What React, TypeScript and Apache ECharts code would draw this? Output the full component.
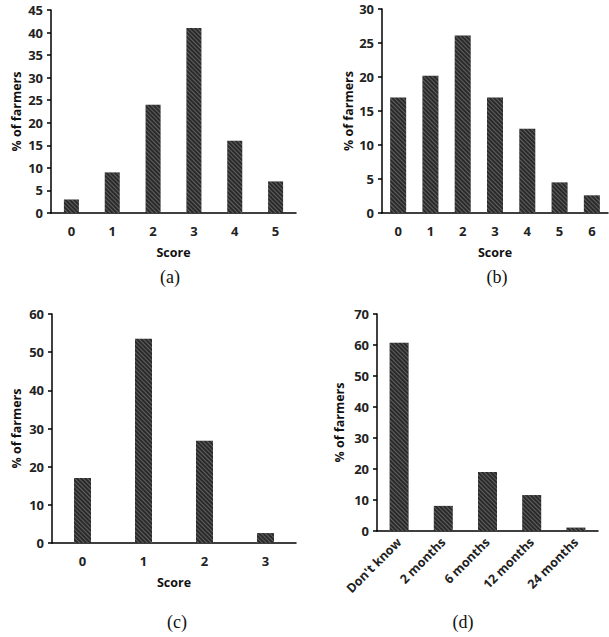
import React, { useEffect, useRef } from "react";
import * as echarts from "echarts";

const catsA = ["0", "1", "2", "3", "4", "5"];
const valsA = [3, 9, 24, 41, 16, 7];
const catsB = ["0", "1", "2", "3", "4", "5", "6"];
const valsB = [17, 20.2, 26.1, 17, 12.4, 4.5, 2.6];
const catsC = ["0", "1", "2", "3"];
const valsC = [17, 53.5, 26.8, 2.6];
const catsD = ["Don't know", "2 months", "6 months", "12 months", "24 months"];
const valsD = [60.7, 8.1, 19, 11.6, 1.1];
const captions = ["(a)", "(b)", "(c)", "(d)"];

const FONT = "Open Sans";

export default function App() {
  const ref = useRef<HTMLDivElement>(null);
  useEffect(() => {
    if (!ref.current) return;
    const chart = echarts.init(ref.current, null, { renderer: "svg" });
    const grids = [
      { left: 51, top: 10, width: 245, height: 203 },
      { left: 382, top: 9, width: 226, height: 204 },
      { left: 52, top: 314, width: 244, height: 229 },
      { left: 377, top: 314, width: 221, height: 217 },
    ];
    const yMax = [45, 30, 60, 70];
    const yInt = [5, 5, 10, 10];
    const cats = [catsA, catsB, catsC, catsD];
    const vals = [valsA, valsB, valsC, valsD];
    const yGap = [28, 27, 29, 31];
    const barW = [15, 16, 17, 19];
    const axisLine = { show: true, lineStyle: { color: "#000", width: 1.5 } };
    const labelStyle = { fontFamily: FONT, fontSize: 13, fontWeight: "bold" as const, color: "#222" };
    const titleStyle = { fontFamily: FONT, fontSize: 12.5, fontWeight: "bold" as const, color: "#111" };
    const xAxis = cats.map((c, i) => ({
      type: "category",
      gridIndex: i,
      data: c,
      name: i < 3 ? "Score" : "",
      nameLocation: "middle",
      nameGap: 33,
      nameTextStyle: titleStyle,
      axisLine,
      axisTick: { show: false },
      axisLabel: i < 3
        ? { ...labelStyle, margin: 11 }
        : { ...labelStyle, fontSize: 12.5, margin: 9, rotate: 45, interval: 0 },
    }));
    const yAxis = cats.map((_, i) => ({
      type: "value",
      gridIndex: i,
      min: 0,
      max: yMax[i],
      interval: yInt[i],
      name: "% of farmers",
      nameLocation: "middle",
      nameGap: yGap[i],
      nameTextStyle: titleStyle,
      axisLine,
      axisTick: { show: true, length: 4, lineStyle: { color: "#000", width: 1.5 } },
      axisLabel: { ...labelStyle, margin: 8 },
      splitLine: { show: false },
    }));
    const series = vals.map((v, i) => ({
      type: "bar",
      xAxisIndex: i,
      yAxisIndex: i,
      data: v,
      barWidth: barW[i],
      itemStyle: {
        color: "#2a2a2a",
        decal: {
          symbol: "rect",
          color: "rgba(255,255,255,0.25)",
          dashArrayX: [1, 0],
          dashArrayY: [1, 2],
          rotation: Math.PI / 4,
        },
      },
    }));
    const capPos = [
      [170, 277],
      [497, 277],
      [177, 622],
      [463, 622],
    ];
    const graphic = captions.map((t, i) => ({
      type: "text",
      x: capPos[i][0],
      y: capPos[i][1],
      style: {
        text: t,
        fontFamily: "Liberation Serif",
        fontSize: 18,
        fill: "#111",
        align: "center",
        verticalAlign: "middle",
      },
    }));
    chart.setOption({
      animation: false,
      grid: grids,
      xAxis,
      yAxis,
      series,
      graphic,
    } as any);
    return () => chart.dispose();
  }, []);
  return (
    <div
      ref={ref}
      style={{ position: "absolute", left: 0, top: 0, width: 609, height: 637, background: "#fff" }}
    />
  );
}
